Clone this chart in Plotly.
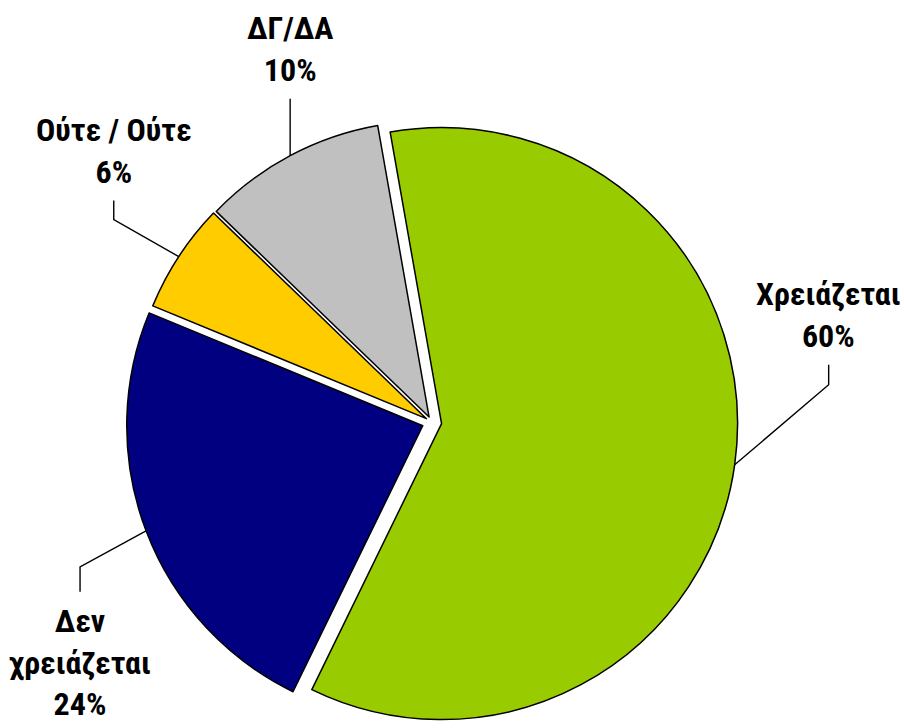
import math
import plotly.graph_objects as go

# data
labels = ["Χρειάζεται", "Δεν<br>χρειάζεται", "Ούτε / Ούτε", "ΔΓ/ΔΑ"]
values = [60, 24, 6, 10]
colors = ["#99CC00", "#000080", "#FFCC00", "#C0C0C0"]
pulls = [0.033, 0.033, 0.022, 0.02]

# label placement (pixels, relative to slice anchor): elbow offset, then vertical stem
elbow_offsets = [(94, -80), (-66, 36), (-65, -37), (0, -57)]
stems = [-20, 25, -19, 0]

W, H = 904, 728
ROTATION = -10
DOM_X = [0.1395, 0.8160]
DOM_Y = [0.0, 0.84]
FONT = "Roboto Condensed, Liberation Sans Narrow, Arial Narrow, sans-serif"

fig = go.Figure()

fig.add_trace(go.Pie(
    labels=labels, values=values, sort=False, direction="clockwise",
    rotation=ROTATION, pull=pulls,
    marker=dict(colors=colors, line=dict(color="#000000", width=1.5)),
    textinfo="none", hoverinfo="skip", showlegend=False,
    domain=dict(x=DOM_X, y=DOM_Y),
))

# pie geometry in pixels (same rule plotly uses to size the pie)
box_w = W * (DOM_X[1] - DOM_X[0])
box_h = H * (DOM_Y[1] - DOM_Y[0])
r = min(box_w, box_h) / (2 + 2 * max(pulls))
cx = W * (DOM_X[0] + DOM_X[1]) / 2
cy = H * (1 - (DOM_Y[0] + DOM_Y[1]) / 2)

total = sum(values)
cum = 0
xs, ys = [], []
annotations = []
for lab, v, p, (ex, ey), st in zip(labels, values, pulls, elbow_offsets, stems):
    mid = math.radians(ROTATION + 360 * (cum + v / 2) / total)
    cum += v
    ax = cx + r * (1 + p) * math.sin(mid)
    ay = cy - r * (1 + p) * math.cos(mid)
    bx, by = ax + ex, ay + ey
    tx, ty = bx, by + st
    xs += [ax, bx, tx, None]
    ys += [ay, by, ty, None]
    up = (ey + st) < 0
    annotations.append(dict(
        x=tx, y=ty - 8 if up else ty + 8, xref="x", yref="y",
        text=f"<b>{lab}<br>{round(100 * v / total)}%</b>",
        showarrow=False, xanchor="center",
        yanchor="bottom" if up else "top",
        font=dict(family=FONT, size=32, color="#000000"),
    ))

fig.add_trace(go.Scatter(
    x=xs, y=ys, mode="lines", line=dict(color="#000000", width=1.4),
    hoverinfo="skip", showlegend=False,
))

fig.update_layout(
    width=W, height=H,
    margin=dict(l=0, r=0, t=0, b=0),
    paper_bgcolor="#ffffff", plot_bgcolor="rgba(0,0,0,0)",
    xaxis=dict(range=[0, W], visible=False, fixedrange=True),
    yaxis=dict(range=[H, 0], visible=False, fixedrange=True),
    annotations=annotations,
)

fig.write_html("out.html", config={"displayModeBar": False},
               post_script="document.body.style.margin='0';")
